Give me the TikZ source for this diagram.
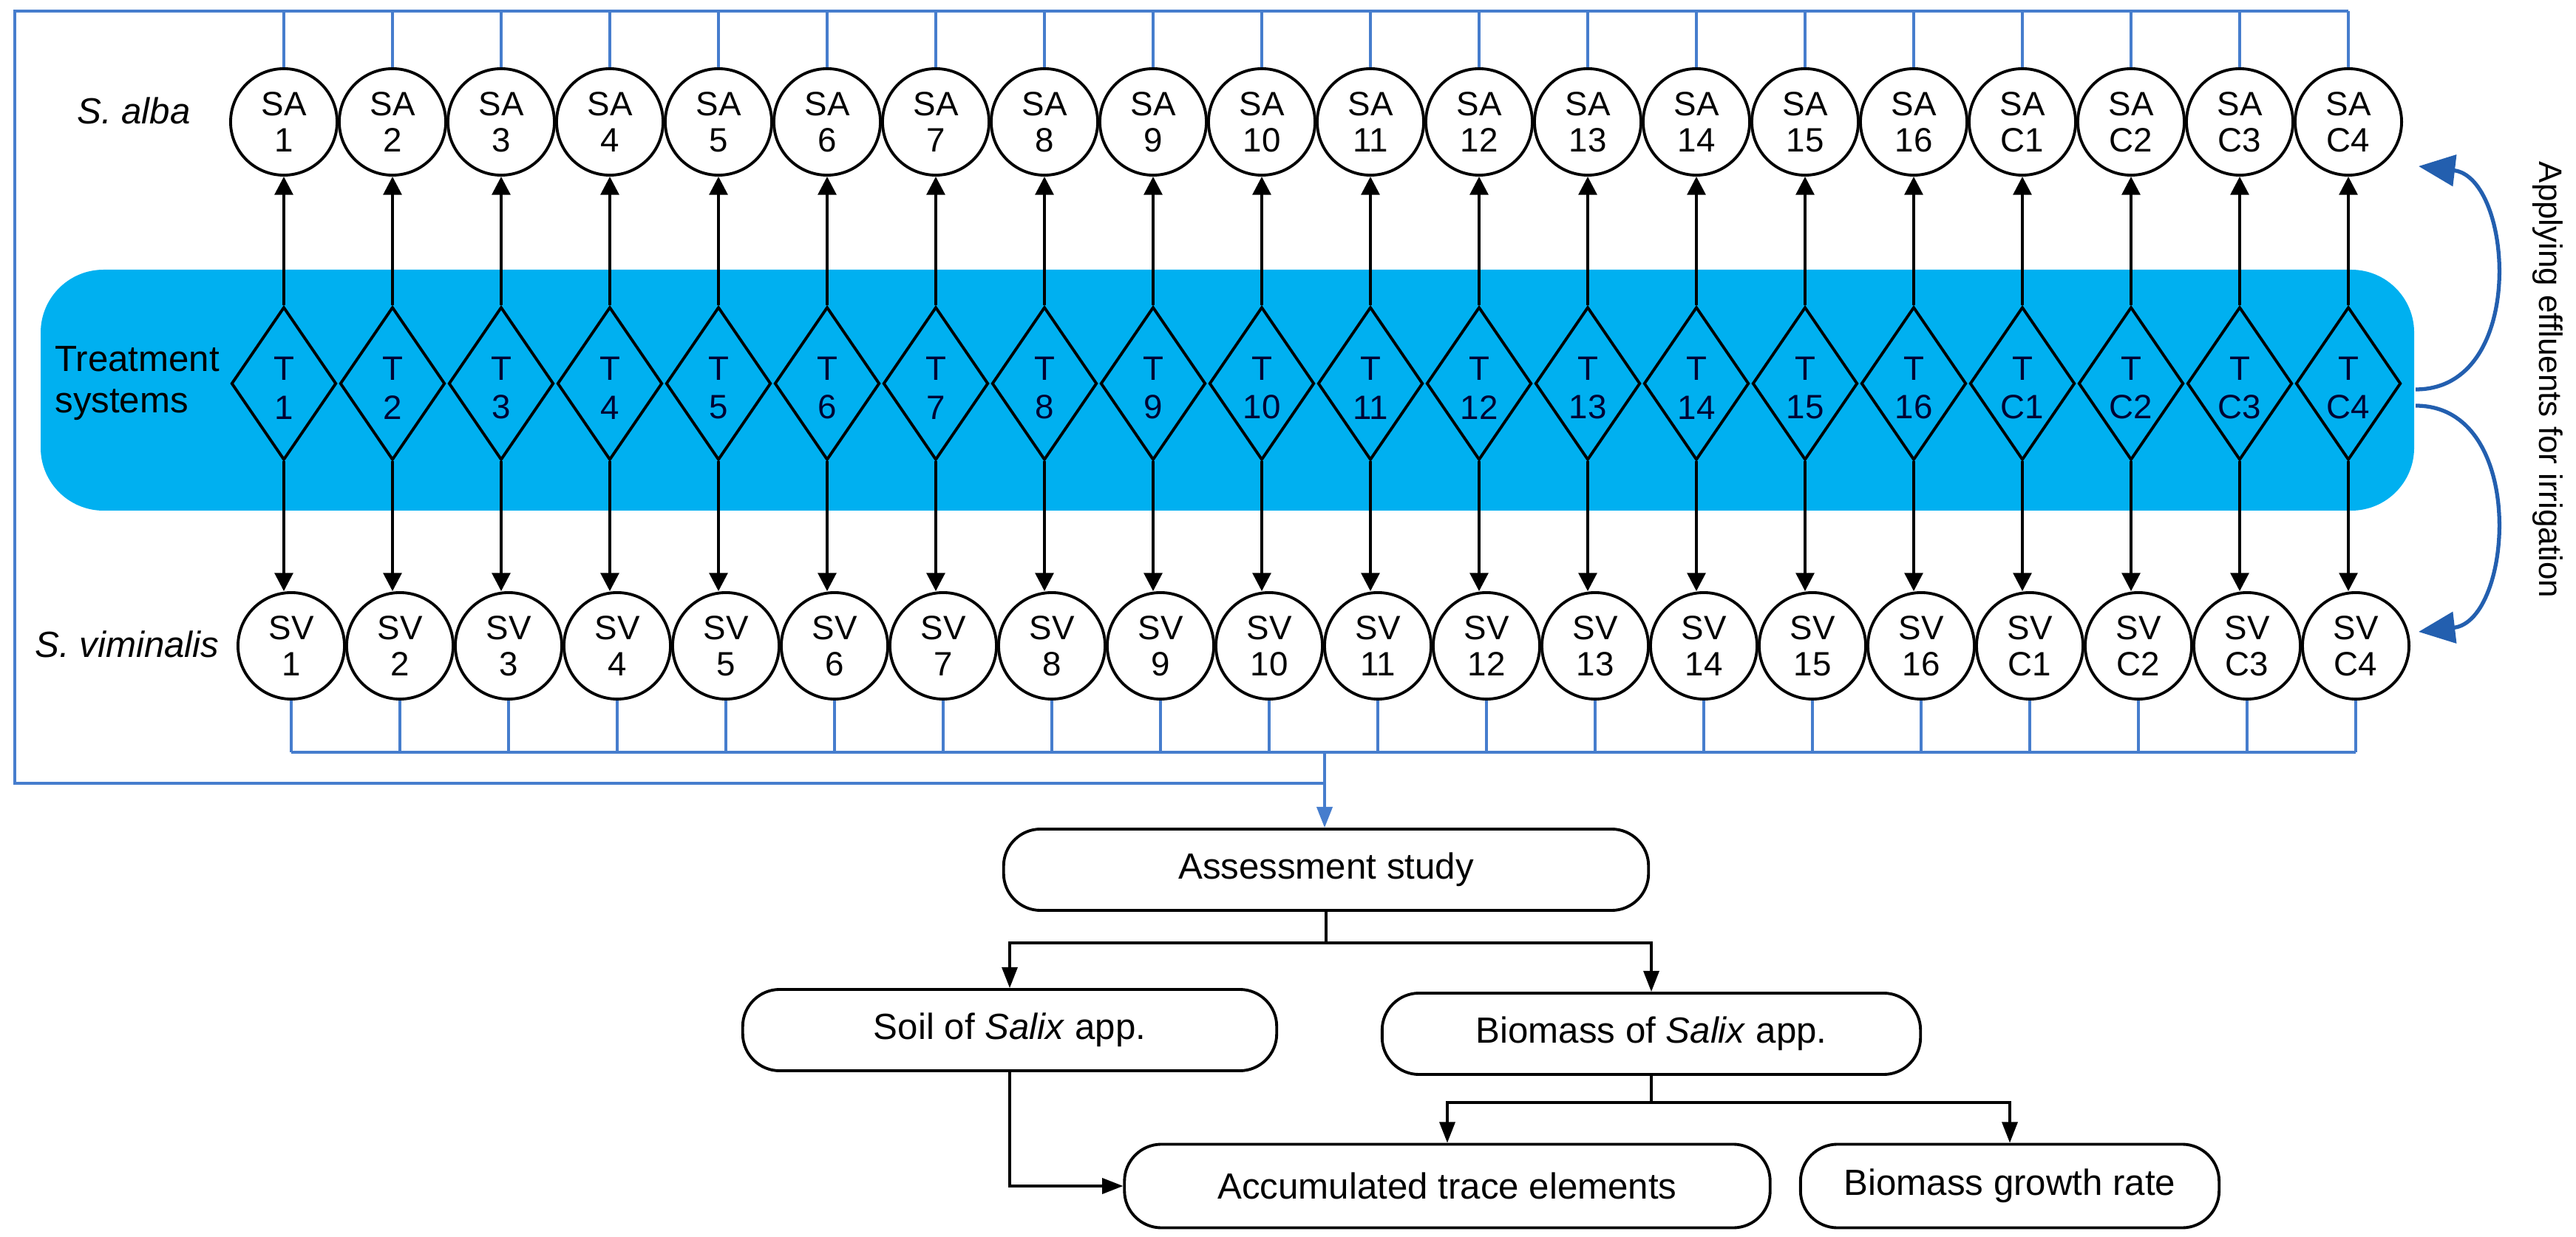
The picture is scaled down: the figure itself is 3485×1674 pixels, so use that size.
\documentclass[tikz,border=0pt]{standalone}
\usepackage{fontspec}
\setmainfont{Liberation Sans}
\usetikzlibrary{shapes.geometric,arrows.meta}
\definecolor{band}{RGB}{0,176,240}
\definecolor{bus}{RGB}{70,125,205}
\definecolor{curv}{RGB}{35,95,175}
\begin{document}
\begin{tikzpicture}[x=0.01cm,y=-0.01cm,
  circ/.style={circle,draw=black,line width=1.1pt,fill=white,minimum size=1.44cm,inner sep=0pt,align=center,font=\fontsize{13}{14}\selectfont},
  dia/.style={diamond,draw=black,line width=1.1pt,minimum width=1.42cm,minimum height=2.07cm,inner sep=0pt},
  dlab/.style={align=center,font=\fontsize{13}{15}\selectfont,text=black!80!blue},
  arr/.style={line width=1.1pt,-{Triangle[length=7pt,width=7pt]}},
  busl/.style={draw=bus,line width=1.1pt},
  box/.style={draw=black,line width=1.1pt,rounded corners=0.5cm,font=\fontsize{14}{16}\selectfont},
  flow/.style={line width=0.9pt,-{Triangle[length=8pt,width=6pt]}},
  lab/.style={font=\fontsize{14}{16}\selectfont}]
\useasboundingbox (0,0) rectangle (3485,1674);
% band
\fill[band,rounded corners=0.85cm] (55,365) rectangle (3266,691);
\node[lab,align=left,anchor=west] (ts) at (62,519) {Treatment\\systems};
\node[lab,font=\fontsize{14}{16}\selectfont\itshape] (sa) at (181,150) {S. alba};
\node[lab,font=\fontsize{14}{16}\selectfont\itshape] (sv) at (172,872) {S. viminalis};
% buses
\coordinate (tl) at (20,15);
\coordinate (bl) at (20,1060);
\coordinate (bm) at (1792,1060);
\coordinate (svb) at (1792,1018);
\draw[busl] (3177,15) -- (tl) -- (bl) -- (bm);
\draw[busl] (394,1018) -- (3187,1018);
\foreach \l [count=\i] in {1,...,16,C1,C2,C3,C4}{
  \pgfmathsetmacro{\xx}{384+147*(\i-1)}
  \pgfmathsetmacro{\xs}{\xx+10}
  \node[circ] (SA\i) at (\xx,165) {SA\\\l};
  \node[circ] (SV\i) at (\xs,874) {SV\\\l};
  \node[dia] (T\i) at (\xx,519) {};
  \node[dlab] (TL\i) at (\xx,525) {T\\\l};
  \draw[busl] (SA\i.north) -- (SA\i.north |- tl);
  \draw[busl] (SV\i.south) -- (SV\i.south |- svb);
  \draw[arr] (T\i.north) -- (SA\i.south);
  \draw[arr] (T\i.south) -- (SV\i.north -| T\i.south);
}
% irrigation arrows
\draw[curv,line width=1.5pt,-{Triangle[length=14pt,width=12pt]}] (3268,527) .. controls (3420,527) and (3400,240) .. (3272,225);
\draw[curv,line width=1.5pt,-{Triangle[length=14pt,width=12pt]}] (3268,549) .. controls (3420,549) and (3400,840) .. (3272,855);
\node[lab,rotate=-90,font=\fontsize{12.5}{14}\selectfont] (app) at (3447,514) {Applying effluents for irrigation};
% flow chart
\node[box,minimum width=8.72cm,minimum height=1.1cm] (as) at (1794,1177) {Assessment study};
\node[box,minimum width=7.22cm,minimum height=1.1cm] (soil) at (1366,1394) {Soil of \textit{Salix} app.};
\node[box,minimum width=7.28cm,minimum height=1.1cm] (bio) at (2234,1399) {Biomass of \textit{Salix} app.};
\node[box,minimum width=8.73cm,minimum height=1.13cm] (acc) at (1958,1605) {Accumulated trace elements};
\node[box,minimum width=5.66cm,minimum height=1.13cm] (gr) at (2719,1605) {Biomass growth rate};
\draw[bus,line width=1.1pt,-{Triangle[length=8pt,width=6pt]}] (svb) -- (as.north -| svb);
\coordinate (j1) at (1794,1276);
\coordinate (j2) at (2234,1492);
\draw[line width=0.9pt] (as.south) -- (j1);
\draw[flow] (j1) -| (soil.north);
\draw[flow] (j1) -| (bio.north);
\draw[line width=0.9pt] (bio.south) -- (j2);
\draw[flow] (j2) -| (acc.north);
\draw[flow] (j2) -| (gr.north);
\draw[flow] (soil.south) |- (acc.west);
\end{tikzpicture}
\end{document}
